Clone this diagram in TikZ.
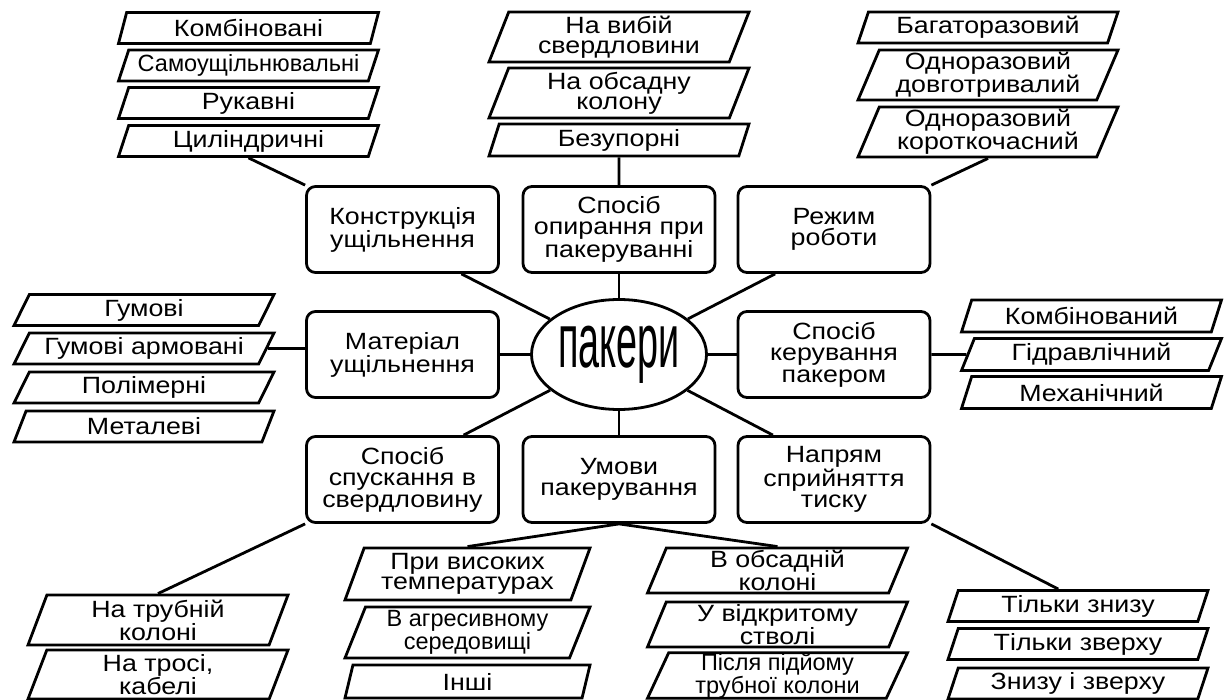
\documentclass[tikz,border=0pt]{standalone}
\usepackage{fontspec}
\setmainfont{Liberation Sans}[FakeStretch=1.14]
\newfontfamily\vuzkyi{Liberation Sans}
\usepackage{graphicx}
\usetikzlibrary{shapes.geometric,calc}
\begin{document}
\begin{tikzpicture}[x=1pt,y=-1pt,line width=2.8pt,
  every node/.style={font=\fontsize{23.5}{21.5}\selectfont,align=center},
  kat/.style={draw,rounded corners=9pt,minimum width=192pt,minimum height=86pt,inner sep=2pt},
  vyd/.style={draw,trapezium,trapezium left angle=65,trapezium right angle=115,
    trapezium stretches body,inner sep=0pt,minimum width=260pt,minimum height=#1,
    font=\fontsize{23.5}{20}\selectfont},
  vyd/.default=31pt,
  vuz/.style={font=\fontsize{23.5}{20}\vuzkyi}]
\useasboundingbox (0,0) rectangle (1229,700);

% centre
\node[draw,ellipse,minimum width=175pt,minimum height=110pt,inner sep=0pt] (pak) at (619,354.5)
  {\fontsize{77}{77}\selectfont\scalebox{0.43}[1]{пакери}};

% groups
\node[kat] (kon) at (402.5,229.5) {Конструкція\\ущільнення};
\node[kat] (opy) at (619,229.5) {Спосіб\\опирання при\\пакеруванні};
\node[kat] (rez) at (834,229.5) {Режим\\роботи};
\node[kat] (mat) at (402.5,354.5) {Матеріал\\ущільнення};
\node[kat] (ker) at (834,354.5) {Спосіб\\керування\\пакером};
\node[kat] (spu) at (402.5,479.5) {Спосіб\\спускання в\\свердловину};
\node[kat] (umo) at (619,479.5) {Умови\\пакерування};
\node[kat] (nap) at (834,479.5) {Напрям\\сприйняття\\тиску};

% seal design
\node[vyd] (kon1) at (248.5,28) {Комбіновані};
\node[vyd,vuz] (kon2) at (248.5,65.5) {Самоущільнювальні};
\node[vyd] (kon3) at (248.5,103) {Рукавні};
\node[vyd] (kon4) at (248.5,141) {Циліндричні};

% support
\node[vyd=50pt] (opy1) at (619,37) {На вибій\\свердловини};
\node[vyd=50pt] (opy2) at (619,93) {На обсадну\\колону};
\node[vyd=32pt] (opy3) at (619,140) {Безупорні};

% mode
\node[vyd] (rez1) at (988,27.5) {Багаторазовий};
\node[vyd=50pt] (rez2) at (988,75) {Одноразовий\\довготривалий};
\node[vyd=50pt] (rez3) at (988,132) {Одноразовий\\короткочасний};

% material
\node[vyd=31pt,trapezium left angle=55,trapezium right angle=125] (mat1) at (144,310) {Гумові};
\node[vyd=31pt,trapezium left angle=55,trapezium right angle=125] (mat2) at (144,348.5) {Гумові армовані};
\node[vyd=31pt,trapezium left angle=55,trapezium right angle=125] (mat3) at (144,387.5) {Полімерні};
\node[vyd=31pt,trapezium left angle=55,trapezium right angle=125] (mat4) at (144,426.5) {Металеві};

% control
\node[vyd=32pt,trapezium left angle=60,trapezium right angle=120] (ker1) at (1091.5,316) {Комбінований};
\node[vyd=32pt,trapezium left angle=60,trapezium right angle=120] (ker2) at (1091.5,354.5) {Гідравлічний};
\node[vyd=32pt,trapezium left angle=60,trapezium right angle=120] (ker3) at (1091.5,392.5) {Механічний};

% running in
\node[vyd=50pt] (spu1) at (158,620) {На трубній\\колоні};
\node[vyd=49pt] (spu2) at (158,674.5) {На тросі,\\кабелі};

% conditions
\node[vyd=52pt,minimum width=245pt] (umo1) at (467.5,574) {При високих\\температурах};
\node[vyd=51pt,minimum width=245pt,vuz] (umo2) at (467.5,632.5) {В агресивному\\середовищі};
\node[vyd=33pt,minimum width=245pt] (umo3) at (467.5,681.5) {Інші};
\node[vyd=45pt] (umo4) at (777.5,570.5) {В обсадній\\колоні};
\node[vyd=45pt] (umo5) at (777.5,624.5) {У відкритому\\стволі};
\node[vyd=45pt,vuz] (umo6) at (777.5,675.5) {Після підйому\\трубної колони};

% pressure
\node[vyd] (nap1) at (1078,606) {Тільки знизу};
\node[vyd] (nap2) at (1078,644) {Тільки зверху};
\node[vyd] (nap3) at (1078,683.5) {Знизу і зверху};

% links to centre
\draw (kon.-37) -- (pak);
\draw (opy) -- (pak);
\draw (rez.-143) -- (pak);
\draw (mat) -- (pak);
\draw (pak) -- (ker);
\draw (spu.36) -- (pak);
\draw (umo) -- (pak);
\draw (nap.144) -- (pak);

% links to kinds
\draw (kon4.south) -- (kon.north west);
\draw (opy3.south) -- (opy.north);
\draw (rez3.south) -- (rez.north east);
\draw (mat2.east) -- (mat.west |- mat2.east);
\draw (ker.east) -- (ker2.west);
\draw (spu.south west) -- (spu1.north);
\draw (umo.south) -- (umo1.north);
\draw (umo.south) -- (umo4.north);
\draw (nap.south east) -- ($(nap1.top left corner)!0.4!(nap1.top right corner)$);
\end{tikzpicture}
\end{document}
